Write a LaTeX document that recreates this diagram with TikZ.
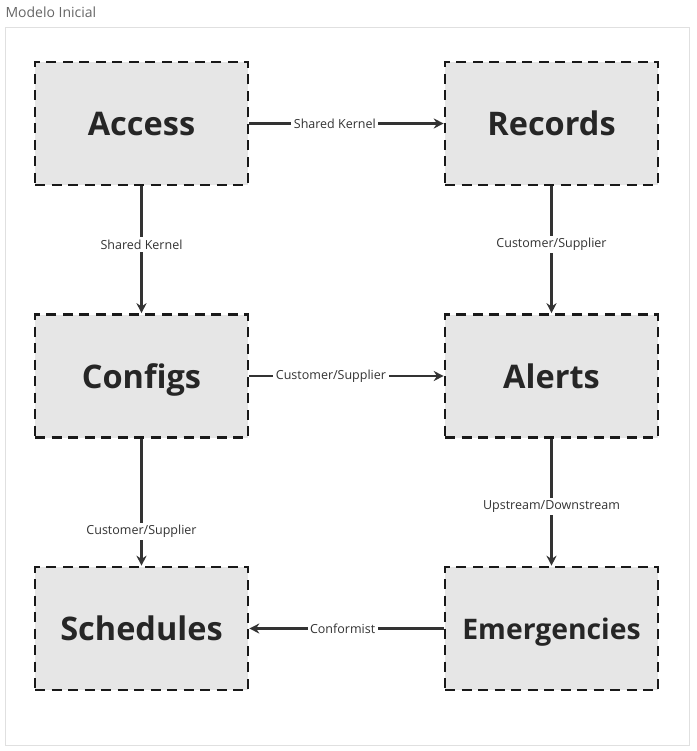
\documentclass[tikz,border=0pt]{standalone}
\usepackage{fontspec}
\setmainfont{Open Sans}
\usetikzlibrary{arrows.meta}

\definecolor{boxfill}{HTML}{E6E6E6}
\definecolor{linegray}{HTML}{333333}
\definecolor{framegray}{HTML}{E0E0E0}
\definecolor{titlegray}{HTML}{666666}

\tikzset{
  ctxbox/.style={draw=black!90,fill=boxfill,line width=2.6pt,dash pattern=on 10pt off 6.5pt,
    minimum width=213pt,minimum height=123pt,inner sep=0pt,text height=24pt,text depth=0pt,
    font=\fontsize{32.5}{36}\selectfont\bfseries,text=black!85},
  rel/.style={draw=linegray,line width=2.2pt,-{Stealth[length=10pt,width=10pt]}},
  rellabel/.style={fill=white,inner sep=2.5pt,font=\fontsize{12.5}{14}\selectfont,text=linegray}
}

\begin{document}
\begin{tikzpicture}[x=1pt,y=-1pt]
  \useasboundingbox (0,0) rectangle (696,751);
  \node[anchor=west,font=\fontsize{14}{16}\selectfont,text=titlegray] (title) at (2,12) {Modelo Inicial};
  \draw[framegray,line width=0.8pt] (5,27) rectangle (689,745);

  \node[ctxbox] (access) at (141.5,123.5) {Access};
  \node[ctxbox] (records) at (551.5,123.5) {Records};
  \node[ctxbox] (configs) at (141.5,376) {Configs};
  \node[ctxbox] (alerts) at (551.5,376) {Alerts};
  \node[ctxbox] (schedules) at (141.5,628.5) {Schedules};
  \node[ctxbox,text height=21pt,font=\fontsize{28.3}{32}\selectfont\bfseries] (emergencies) at (551.5,628.5) {Emergencies};

  \draw[rel] (access) -- node[rellabel,pos=0.44] {Shared Kernel} (records);
  \draw[rel] (access) -- node[rellabel,pos=0.46] {Shared Kernel} (configs);
  \draw[rel] (records) -- node[rellabel,pos=0.46] {Customer/Supplier} (alerts);
  \draw[rel] (configs) -- node[rellabel,pos=0.42] {Customer/Supplier} (alerts);
  \draw[rel] (configs) -- node[rellabel,pos=0.73] {Customer/Supplier} (schedules);
  \draw[rel] (alerts) -- node[rellabel,pos=0.53] {Upstream/Downstream} (emergencies);
  \draw[rel] (emergencies) -- node[rellabel,pos=0.52] {Conformist} (schedules);
\end{tikzpicture}
\end{document}
